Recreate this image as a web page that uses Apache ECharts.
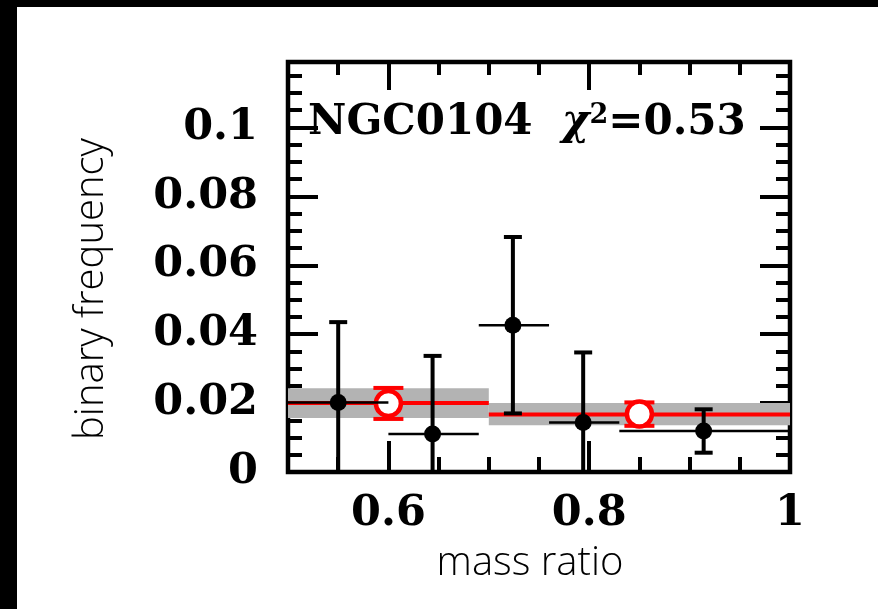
<!DOCTYPE html>
<html>
<head>
<meta charset="utf-8">
<script src="https://cdn.jsdelivr.net/npm/echarts@6/dist/echarts.min.js"></script>
<style>
  html, body { margin: 0; padding: 0; background: #fff; }
  #chart { width: 878px; height: 609px; }
</style>
</head>
<body>
<div id="chart"></div>
<script>
// Binned binary frequency vs mass ratio (black points with error bars)
const binLo   = [0.5, 0.6, 0.69, 0.76, 0.83];
const binHi   = [0.6, 0.69, 0.76, 0.83, 1.0];
const qMean   = [0.55, 0.644, 0.724, 0.794, 0.914];
const freq    = [0.0202, 0.0110, 0.0426, 0.0144, 0.0119];
const freqErr = [0.0233, 0.0227, 0.0256, 0.0203, 0.0063];

// Two-bin fit (red) with its uncertainty band (grey)
const fitLo     = [0.5, 0.7];
const fitHi     = [0.7, 1.0];
const fitVal    = [0.0200, 0.0167];
const fitBandLo = [0.0157, 0.0136];
const fitBandHi = [0.0243, 0.0200];

// Red open circles with their error bars
const fitQ     = [0.6, 0.85];
const fitPoint = [0.0199, 0.0168];
const fitErr   = [0.0045, 0.0034];

// Axis ticks and labels
const xMajor = [0.6, 0.8, 1.0];
const xMinor = [0.55, 0.65, 0.7, 0.75, 0.85, 0.9, 0.95];
const yMajor = [0, 0.02, 0.04, 0.06, 0.08, 0.1];
const yMinor = [0.005, 0.01, 0.015, 0.025, 0.03, 0.035, 0.045, 0.05, 0.055,
                0.065, 0.07, 0.075, 0.085, 0.09, 0.095, 0.105, 0.11, 0.115];

const clusterName = 'NGC0104';
const chi2 = '0.53';

const X_MIN = 0.5, X_MAX = 1.0, Y_MIN = 0, Y_MAX = 0.119;
const serif = 'DejaVu Serif';
const sans = 'Open Sans';
const fmt = v => String(+(+v).toFixed(3));

function tickAxis(kind, pos, values, len, labels) {
  const isX = kind === 'x';
  return {
    type: 'value', position: pos,
    min: isX ? X_MIN : Y_MIN, max: isX ? X_MAX : Y_MAX,
    axisLine: { show: false, onZero: false },
    splitLine: { show: false },
    axisTick: { show: true, inside: true, length: len, customValues: values,
                lineStyle: { color: '#000', width: 4 } },
    axisLabel: labels ? { show: true, customValues: values, formatter: fmt,
                          fontFamily: serif, fontWeight: 'bold', fontSize: 43,
                          color: '#000', margin: isX ? 20 : 30 }
                      : { show: false }
  };
}

const xAxes = [
  tickAxis('x', 'bottom', xMajor, 31, true),
  tickAxis('x', 'bottom', xMinor, 15, false),
  tickAxis('x', 'top', xMajor, 28, false),
  tickAxis('x', 'top', xMinor, 13, false)
];
Object.assign(xAxes[0], {
  name: 'mass ratio', nameLocation: 'middle', nameGap: 72,
  nameTextStyle: { fontFamily: sans, fontWeight: 300, fontSize: 40,
                   color: '#000', padding: [0, 18, 0, 0] }
});

const yAxes = [
  tickAxis('y', 'left', yMajor, 30, true),
  tickAxis('y', 'left', yMinor, 14, false),
  tickAxis('y', 'right', yMajor, 30, false),
  tickAxis('y', 'right', yMinor, 14, false)
];
Object.assign(yAxes[0], {
  name: 'binary frequency', nameLocation: 'middle', nameGap: 176,
  nameTextStyle: { fontFamily: sans, fontWeight: 300, fontSize: 40,
                   color: '#000', padding: [0, 44, 0, 0] }
});

function clampY(y, rect) {
  return Math.max(rect.y, Math.min(rect.y + rect.height, y));
}

// Grey band for each fitted bin
const bandSeries = {
  type: 'custom', z: 1,
  data: fitLo.map((lo, i) => [lo, fitHi[i], fitBandLo[i], fitBandHi[i]]),
  renderItem(params, api) {
    const p0 = api.coord([api.value(0), api.value(3)]);
    const p1 = api.coord([api.value(1), api.value(2)]);
    return { type: 'rect',
             shape: { x: p0[0], y: p0[1], width: p1[0] - p0[0], height: p1[1] - p0[1] },
             style: { fill: '#b3b3b3' } };
  }
};

// Red fitted level per bin
const fitLineSeries = {
  type: 'custom', z: 2,
  data: fitLo.map((lo, i) => [lo, fitHi[i], fitVal[i]]),
  renderItem(params, api) {
    const p0 = api.coord([api.value(0), api.value(2)]);
    const p1 = api.coord([api.value(1), api.value(2)]);
    return { type: 'line', shape: { x1: p0[0], y1: p0[1], x2: p1[0], y2: p1[1] },
             style: { stroke: '#ff0000', lineWidth: 4 } };
  }
};

// Red error bars behind the open circles
const redErrSeries = {
  type: 'custom', z: 3,
  data: fitQ.map((q, i) => [q, fitPoint[i], fitErr[i]]),
  renderItem(params, api) {
    const q = api.value(0), v = api.value(1), e = api.value(2);
    const top = api.coord([q, v + e]);
    const bot = api.coord([q, v - e]);
    const hw = 15;
    const st = { stroke: '#ff0000', lineWidth: 4 };
    return { type: 'group', children: [
      { type: 'line', shape: { x1: top[0], y1: top[1], x2: bot[0], y2: bot[1] }, style: st },
      { type: 'line', shape: { x1: top[0] - hw, y1: top[1], x2: top[0] + hw, y2: top[1] }, style: st },
      { type: 'line', shape: { x1: bot[0] - hw, y1: bot[1], x2: bot[0] + hw, y2: bot[1] }, style: st }
    ] };
  }
};

const redCircleSeries = {
  type: 'scatter', z: 4, symbol: 'circle', symbolSize: 25,
  data: fitQ.map((q, i) => [q, fitPoint[i]]),
  itemStyle: { color: '#fff', borderColor: '#ff0000', borderWidth: 4.5, opacity: 1 }
};

// Black horizontal bin widths and vertical errors
const blackErrSeries = {
  type: 'custom', z: 5,
  data: qMean.map((q, i) => [q, freq[i], freqErr[i], binLo[i], binHi[i]]),
  renderItem(params, api) {
    const rect = params.coordSys;
    const q = api.value(0), v = api.value(1), e = api.value(2);
    const c = api.coord([q, v]);
    const l = api.coord([api.value(3), v]);
    const r = api.coord([api.value(4), v]);
    const topRaw = api.coord([q, v + e])[1];
    const botRaw = api.coord([q, v - e])[1];
    const top = clampY(topRaw, rect), bot = clampY(botRaw, rect);
    const hw = 9;
    const st = { stroke: '#000', lineWidth: 4 };
    const kids = [
      { type: 'line', shape: { x1: l[0], y1: c[1], x2: r[0], y2: c[1] },
        style: { stroke: '#000', lineWidth: 2.5 } },
      { type: 'line', shape: { x1: c[0], y1: top, x2: c[0], y2: bot }, style: st }
    ];
    if (top === topRaw) kids.push({ type: 'line', shape: { x1: c[0] - hw, y1: top, x2: c[0] + hw, y2: top }, style: st });
    if (bot === botRaw) kids.push({ type: 'line', shape: { x1: c[0] - hw, y1: bot, x2: c[0] + hw, y2: bot }, style: st });
    return { type: 'group', children: kids };
  }
};

const blackPointSeries = {
  type: 'scatter', z: 6, symbol: 'circle', symbolSize: 17,
  data: qMean.map((q, i) => [q, freq[i]]),
  itemStyle: { color: '#000', opacity: 1 }
};

const chart = echarts.init(document.getElementById('chart'), null, { renderer: 'canvas' });
chart.setOption({
  animation: false,
  backgroundColor: '#fff',
  title: {
    left: 303, top: 97,
    text: clusterName + '  {chi|χ}{sup|2}=' + chi2,
    textStyle: {
      fontFamily: serif, fontWeight: 'bold', fontSize: 42, color: '#000',
      rich: {
        chi: { fontFamily: serif, fontStyle: 'italic', fontWeight: 'bold', fontSize: 42, color: '#000' },
        sup: { fontFamily: serif, fontWeight: 'bold', fontSize: 27, color: '#000',
               verticalAlign: 'top', padding: [0, 0, 16, 0] }
      }
    }
  },
  grid: {
    left: 288, right: 88, top: 62, bottom: 137,
    show: true, borderColor: '#000', borderWidth: 4.5, backgroundColor: 'transparent'
  },
  xAxis: xAxes,
  yAxis: yAxes,
  graphic: [
    { type: 'rect', shape: { x: 0, y: 0, width: 878, height: 7 }, style: { fill: '#000' }, z: 100 },
    { type: 'rect', shape: { x: 0, y: 0, width: 17, height: 609 }, style: { fill: '#000' }, z: 100 }
  ],
  series: [bandSeries, fitLineSeries, redErrSeries, redCircleSeries, blackErrSeries, blackPointSeries]
});
</script>
</body>
</html>
